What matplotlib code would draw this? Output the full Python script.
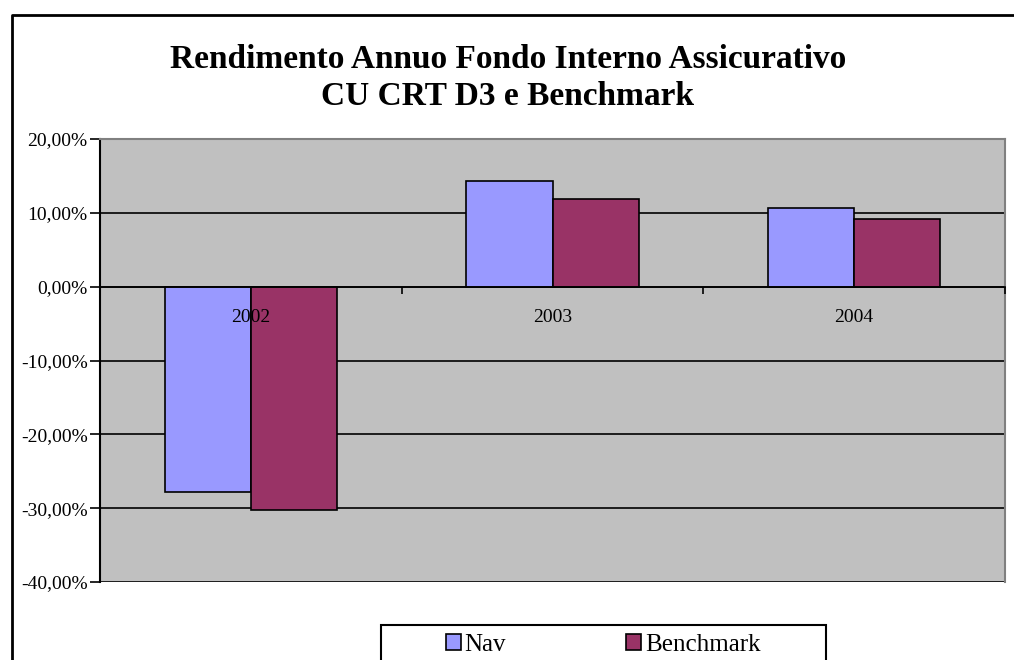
import numpy as np
import matplotlib.pyplot as plt
from matplotlib.lines import Line2D
from matplotlib.patches import Rectangle
from matplotlib.ticker import FuncFormatter

years = ['2002', '2003', '2004']
nav = [-27.8, 14.3, 10.7]
benchmark = [-30.2, 11.9, 9.2]

W, H = 1014, 660
fig = plt.figure(figsize=(W / 100, H / 100), dpi=100)
plt.rcParams['font.family'] = ['Liberation Serif', 'DejaVu Serif']

# chart area border (left and top edges visible)
fig.add_artist(Line2D([12 / W, 12 / W, 1.0], [0.0, 1 - 15 / H, 1 - 15 / H],
                      transform=fig.transFigure, color='black', lw=2))

ax = fig.add_axes([100 / W, (H - 582) / H, 905 / W, 443 / H])
ax.set_facecolor('#C0C0C0')

x = np.arange(len(years))
bw = 0.286
ax.bar(x - bw / 2, nav, bw, color='#9999FF', edgecolor='black', lw=1.2, label='Nav', zorder=3)
ax.bar(x + bw / 2, benchmark, bw, color='#993366', edgecolor='black', lw=1.2, label='Benchmark', zorder=3)

ax.set_ylim(-40, 20)
ax.set_xlim(-0.5, 2.5)
ax.set_yticks(np.arange(-40, 21, 10))
ax.yaxis.set_major_formatter(FuncFormatter(lambda v, p: f'{v:.2f}%'.replace('.', ',')))
ax.yaxis.grid(True, color='black', lw=1.2)
ax.tick_params(axis='y', direction='out', length=7, width=1.2, labelsize=14, pad=2)

# category axis crossing at zero
ax.spines['bottom'].set_position(('data', 0))
ax.spines['bottom'].set_linewidth(1.2)
ax.spines['bottom'].set_zorder(4)
ax.set_xticks([-0.5, 0.5, 1.5, 2.5])
ax.set_xticklabels([])
ax.tick_params(axis='x', which='major', direction='out', length=5, width=1.2)
ax.set_xticks(x, minor=True)
ax.set_xticklabels(years, minor=True)
ax.tick_params(axis='x', which='minor', length=0, pad=16, labelsize=14)
ax.yaxis.set_zorder(1)
ax.xaxis.set_zorder(5)

ax.spines['left'].set_linewidth(1.5)
for s in ['top', 'right']:
    ax.spines[s].set_color('#808080')
    ax.spines[s].set_linewidth(1.5)

fig.text(508 / W, 1 - 78 / H,
         'Rendimento Annuo Fondo Interno Assicurativo\nCU CRT D3 e Benchmark',
         ha='center', va='center', fontsize=24, fontweight='bold', linespacing=1.22)

# legend box runs off the bottom of the chart
fig.add_artist(Rectangle((381 / W, -0.05), 445 / W, 0.05 + 1 - 625 / H,
                         transform=fig.transFigure, fill=False, edgecolor='black', lw=1.5))
fig.legend(loc='center', bbox_to_anchor=(603 / W, 1 - 645 / H), ncol=2, fontsize=18,
           frameon=False, handlelength=0.6, handleheight=0.6, handletextpad=0.15,
           columnspacing=4.8, borderpad=0, borderaxespad=0)

fig.savefig('out.png', dpi=100)
